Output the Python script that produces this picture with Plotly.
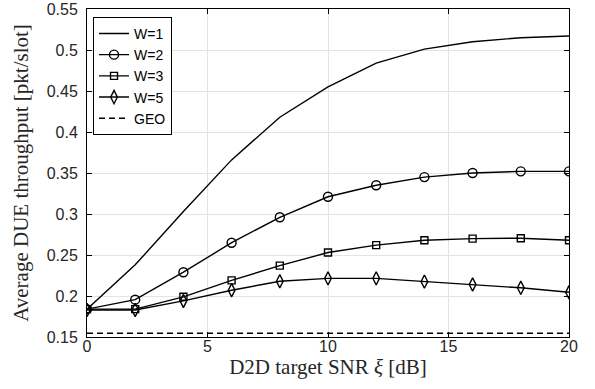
import plotly.graph_objects as go

snr = [0, 2, 4, 6, 8, 10, 12, 14, 16, 18, 20]
w1 = [0.184, 0.238, 0.303, 0.366, 0.418, 0.455, 0.484, 0.501, 0.510, 0.515, 0.517]
w2 = [0.184, 0.1955, 0.229, 0.265, 0.296, 0.321, 0.335, 0.345, 0.350, 0.352, 0.352]
w3 = [0.184, 0.184, 0.199, 0.219, 0.237, 0.253, 0.262, 0.268, 0.270, 0.2705, 0.268]
w5 = [0.183, 0.183, 0.194, 0.207, 0.218, 0.2215, 0.2215, 0.2175, 0.214, 0.210, 0.2045]
geo = [0.1545] * len(snr)
x_ticks = [0, 5, 10, 15, 20]
y_ticks = [0.15, 0.2, 0.25, 0.3, 0.35, 0.4, 0.45, 0.5, 0.55]
y_tick_text = ["0.15", "0.2", "0.25", "0.3", "0.35", "0.4", "0.45", "0.5", "0.55"]

fig = go.Figure()
lw = 1.4
fig.add_trace(go.Scatter(x=snr, y=w1, mode="lines", name="W=1",
                         line=dict(color="black", width=lw)))
fig.add_trace(go.Scatter(x=snr, y=w2, mode="lines+markers", name="W=2",
                         line=dict(color="black", width=lw),
                         marker=dict(symbol="circle-open", size=9, color="black", line=dict(width=1.4))))
fig.add_trace(go.Scatter(x=snr, y=w3, mode="lines+markers", name="W=3",
                         line=dict(color="black", width=lw),
                         marker=dict(symbol="square-open", size=7, color="black", line=dict(width=1.4))))
fig.add_trace(go.Scatter(x=snr, y=w5, mode="lines+markers", name="W=5",
                         line=dict(color="black", width=lw),
                         marker=dict(symbol="diamond-tall-open", size=9.5, color="black", line=dict(width=1.4))))
fig.add_trace(go.Scatter(x=snr, y=geo, mode="lines", name="GEO",
                         line=dict(color="black", width=lw, dash="6px,4px")))

axis_common = dict(showline=True, linecolor="black", linewidth=1, mirror="ticks",
                   ticks="inside", ticklen=5, tickcolor="black", automargin=False,
                   showgrid=True, gridcolor="#e3e3e3", gridwidth=1, zeroline=False,
                   tickfont=dict(family="Liberation Sans, Arial, sans-serif", size=16, color="#262626"))

fig.update_layout(
    width=595, height=389,
    margin=dict(l=87, r=26, t=9, b=52),
    paper_bgcolor="white", plot_bgcolor="white",
    showlegend=True,
    legend=dict(x=0.0125, y=0.976, xanchor="left", yanchor="top",
                bgcolor="white", bordercolor="black", borderwidth=1,
                font=dict(family="Liberation Sans, Arial, sans-serif", size=14, color="black"),
                tracegroupgap=0, itemwidth=30),
    xaxis=dict(range=[0, 20], tickvals=x_ticks, ticklabelstandoff=-5,
               title=dict(text="D2D target SNR <i>ξ</i> [dB]", standoff=0,
                          font=dict(family="Liberation Serif, DejaVu Serif, serif", size=21, color="#262626")),
               **axis_common),
    yaxis=dict(range=[0.15, 0.55], tickvals=y_ticks, ticktext=y_tick_text, ticklabelstandoff=5,
               title=dict(text="Average DUE throughput [pkt/slot]", standoff=12,
                          font=dict(family="Liberation Serif, DejaVu Serif, serif", size=21, color="#262626")),
               **axis_common),
)

# remove the browser's default 8px body margin so the figure fills the window exactly
fig.write_html("out.html", config={"displayModeBar": False},
               post_script="document.body.style.margin='0px';")
